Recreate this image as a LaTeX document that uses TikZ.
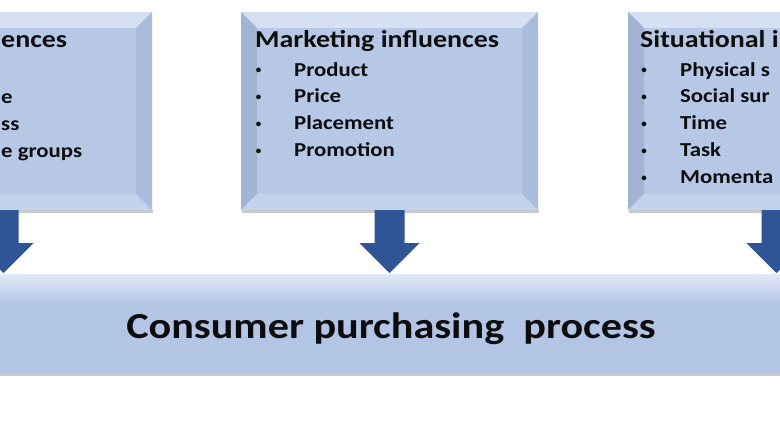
\documentclass[tikz,border=0pt]{standalone}
\usepackage{fontspec}
\setmainfont{Carlito}
\newfontfamily\widefont[FakeStretch=1.15]{Carlito}
\usetikzlibrary{calc}
\definecolor{boxbase}{HTML}{B6C8E6}
\definecolor{bevtop}{HTML}{D5E1F2}
\definecolor{bevleft}{HTML}{A2B4D3}
\definecolor{bevright}{HTML}{AABCDC}
\definecolor{bevbot}{HTML}{C4D3EC}
\definecolor{arrowblue}{HTML}{2F5597}
\definecolor{barlight}{HTML}{E2EAF7}
\definecolor{barbase}{HTML}{B3C5E5}
\definecolor{shadowgray}{HTML}{C9C9C9}
\definecolor{txt}{HTML}{0D0D0D}
\tikzset{
  panel/.style={fill=boxbase, minimum width=297pt, minimum height=198pt, inner sep=0pt, outer sep=0pt},
  headtxt/.style={font=\widefont\bfseries\fontsize{24.3}{28}\selectfont, text=txt, inner sep=0pt},
  itemtxt/.style={font=\widefont\bfseries\fontsize{19.8}{23}\selectfont, text=txt, inner sep=0pt},
  dottxt/.style={font=\bfseries\fontsize{11}{12}\selectfont, text=txt, inner sep=0pt, anchor=center},
  bartxt/.style={font=\widefont\bfseries\fontsize{36.7}{42}\selectfont, text=txt, inner sep=0pt},
  blkarrowstyle/.style={fill=arrowblue},
}
\newcommand\bevelpanel[1]{%
  \fill[shadowgray] ($(#1.south west)+(1,0)$) rectangle ($(#1.south east)+(1,3)$);
  \fill[bevtop] (#1.north west) -- (#1.north east) -- ($(#1.north east)+(-16,16)$) -- ($(#1.north west)+(16,16)$) -- cycle;
  \fill[bevleft] (#1.north west) -- ($(#1.north west)+(16,16)$) -- ($(#1.south west)+(16,-16)$) -- (#1.south west) -- cycle;
  \fill[bevright] (#1.north east) -- ($(#1.north east)+(-16,16)$) -- ($(#1.south east)+(-16,-16)$) -- (#1.south east) -- cycle;
  \fill[bevbot] (#1.south west) -- ($(#1.south west)+(16,-16)$) -- ($(#1.south east)+(-16,-16)$) -- (#1.south east) -- cycle;
}
\newcommand\blkarrow[1]{%
  \fill[blkarrowstyle] ($(#1.south)+(-15,0)$) -- ($(#1.south)+(15,0)$) -- ($(#1.south)+(15,33)$) -- ($(#1.south)+(30,33)$) -- (#1.south |- bar.north) -- ($(#1.south)+(-30,33)$) -- ($(#1.south)+(-15,33)$) -- cycle;}
\begin{document}
\begin{tikzpicture}[x=1pt,y=-1pt]
\useasboundingbox (0,0) rectangle (780,440);
\clip (0,0) rectangle (780,440);
\fill[white] (0,0) rectangle (780,440);
% panels
\node[panel] (soc) at (3.5,111) {};
\node[panel] (mk) at (389.5,111) {};
\node[panel] (sit) at (776.5,111) {};
\bevelpanel{soc}
\bevelpanel{mk}
\bevelpanel{sit}
% bar
\node[fill=barbase, minimum width=820pt, minimum height=100pt, inner sep=0pt, outer sep=0pt] (bar) at (390,323) {};
\fill[shadowgray] ($(bar.south west)$) rectangle ($(bar.south east)+(0,3)$);
\shade[top color=barlight, bottom color=barbase] (bar.north west) rectangle ($(bar.north east)+(0,30)$);
\draw[white, line width=1pt] (bar.north west) -- (bar.north east);
% arrows
\blkarrow{soc}
\blkarrow{mk}
\blkarrow{sit}
% texts: left panel (cut off by the picture edge)
\node[headtxt, anchor=base west] (socH) at (1,47) {ences};
\node[itemtxt, anchor=base west] (soc2) at (1,103) {e};
\node[itemtxt, anchor=base west] (soc3) at (1,130) {ss};
\node[itemtxt, anchor=base west] (soc4) at (1,157) {e groups};
% marketing
\node[headtxt, anchor=base west] (mkH) at ($(mk.north west)+(14,35)$) {Marketing influences};
\foreach \t [count=\i] in {Product,Price,Placement,Promotion}{
  \node[dottxt] (mkb\i) at ($(mk.north west)+(17.5,59+26.9*\i-26.9)$) {•};
  \node[itemtxt, anchor=base west] (mki\i) at ($(mk.north west)+(53,64+26.9*\i-26.9)$) {\t};
}
% situational (cut off by the picture edge)
\node[headtxt, anchor=base west] (sitH) at ($(sit.north west)+(12,35)$) {Situational i};
\foreach \t [count=\i] in {Physical s,Social sur,Time,Task,Momenta}{
  \node[dottxt] (sitb\i) at ($(sit.north west)+(16,59+26.9*\i-26.9)$) {•};
  \node[itemtxt, anchor=base west] (siti\i) at ($(sit.north west)+(52,64+26.9*\i-26.9)$) {\t};
}
% bar text
\node[bartxt, anchor=base] (barT) at (391,338) {Consumer purchasing\ \ process};
\end{tikzpicture}
\end{document}
